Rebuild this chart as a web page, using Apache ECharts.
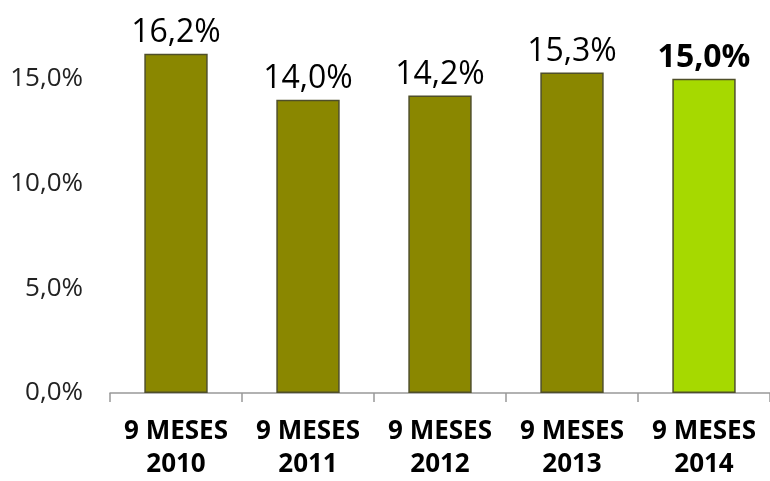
<!DOCTYPE html>
<html><head><meta charset="utf-8">
<script src="https://cdn.jsdelivr.net/npm/echarts@6/dist/echarts.min.js"></script>
<style>html,body{margin:0;padding:0;background:#fff}#c{width:770px;height:481px}</style>
</head><body><div id="c"></div>
<script>
const categories = ['9 MESES\n2010','9 MESES\n2011','9 MESES\n2012','9 MESES\n2013','9 MESES\n2014'];
const values = [16.2, 14.0, 14.2, 15.3, 15.0];
const barColors = ['#8a8700','#8a8700','#8a8700','#8a8700','#a6d900'];
const highlight = [false,false,false,false,true];
const yTicks = [0,5,10,15];

const fmt = v => v.toFixed(1).replace('.', ',') + '%';
const chart = echarts.init(document.getElementById('c'));
chart.setOption({
  animation:false,
  grid:{left:110, top:16, width:667, height:382},
  xAxis:{type:'category', data:categories,
    axisLine:{lineStyle:{color:'#999', width:1.5}},
    axisTick:{show:true, length:9, lineStyle:{color:'#999', width:1.5}},
    axisLabel:{fontFamily:'Open Sans', fontWeight:'bold', fontSize:26, color:'#000', lineHeight:33, margin:22, interval:0}
  },
  yAxis:{type:'value', min:0, max:18, interval:5,
    splitLine:{show:false}, axisLine:{show:false}, axisTick:{show:false},
    axisLabel:{fontFamily:'Open Sans', fontSize:26, color:'#222', margin:27,
      formatter:v => yTicks.includes(v) ? fmt(v) : ''}
  },
  series:[{type:'bar', barWidth:'48%',
    data: values.map((v,i)=>({value:v,
      itemStyle:{color:barColors[i], borderColor:'#4f4f2a', borderWidth:1.5},
      label:{fontWeight: highlight[i] ? 'bold':'normal'}})),
    label:{show:true, position:'top', distance:5, fontFamily:'Open Sans', fontSize:32, color:'#000',
      formatter:p=>fmt(p.value)}
  }]
});
</script></body></html>
